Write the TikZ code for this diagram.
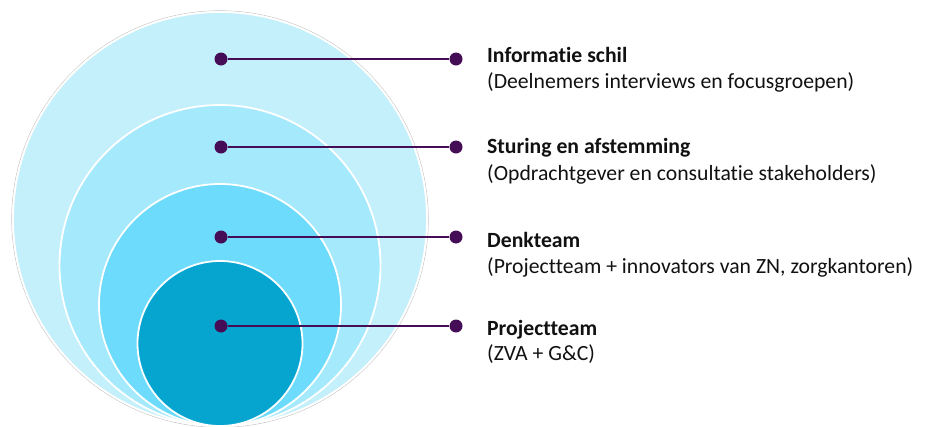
\documentclass[tikz,border=0pt]{standalone}
\usepackage{fontspec}
\setmainfont{Carlito}[Ligatures=NoCommon]
\definecolor{cone}{HTML}{C4F0FC}
\definecolor{ctwo}{HTML}{A5E9FD}
\definecolor{cthree}{HTML}{6DDBFB}
\definecolor{cfour}{HTML}{05A5D0}
\definecolor{dotc}{HTML}{450D55}
\definecolor{txt}{HTML}{111111}
\begin{document}
\begin{tikzpicture}[x=1pt,y=-1pt,
  ring/.style={draw=white,line width=1.8pt},
  dotn/.style={circle,fill=dotc,inner sep=0pt,minimum size=13pt},
  conn/.style={draw=dotc,line width=2.3pt},
  ttl/.style={anchor=base west,inner sep=0pt,text=txt,font=\fontsize{21.7}{26}\selectfont\bfseries},
  sub/.style={anchor=base west,inner sep=0pt,text=txt,font=\fontsize{21.7}{26}\selectfont}]
\useasboundingbox (0,0) rectangle (932,426);
\draw[gray!45,line width=0.6pt] (220,219) circle (208.3pt);
\filldraw[fill=cone,ring] (220,219) circle (207pt);
\filldraw[fill=ctwo,ring] (220,265.5) circle (160.5pt);
\filldraw[fill=cthree,ring] (220,305) circle (121pt);
\filldraw[fill=cfour,ring] (220,343.5) circle (82.5pt);
\node[dotn] (l1) at (221,59) {};
\node[dotn] (r1) at (456,59) {};
\node[dotn] (l2) at (221,147) {};
\node[dotn] (r2) at (456,147) {};
\node[dotn] (l3) at (221,237) {};
\node[dotn] (r3) at (456,237) {};
\node[dotn] (l4) at (221,326) {};
\node[dotn] (r4) at (456,326) {};
\draw[conn] (l1) -- (r1);
\draw[conn] (l2) -- (r2);
\draw[conn] (l3) -- (r3);
\draw[conn] (l4) -- (r4);
\node[ttl] (t1) at (487,62) {Informatie schil};
\node[sub] (s1) at (487,88) {(Deelnemers interviews en focusgroepen)};
\node[ttl] (t2) at (487,153) {Sturing en afstemming};
\node[sub] (s2) at (487,180) {(Opdrachtgever en consultatie stakeholders)};
\node[ttl] (t3) at (487,247) {Denkteam};
\node[sub] (s3) at (487,273) {(Projectteam + innovators van ZN, zorgkantoren)};
\node[ttl] (t4) at (487,335) {Projectteam};
\node[sub] (s4) at (487,360) {(ZVA + G\&C)};
\end{tikzpicture}
\end{document}
